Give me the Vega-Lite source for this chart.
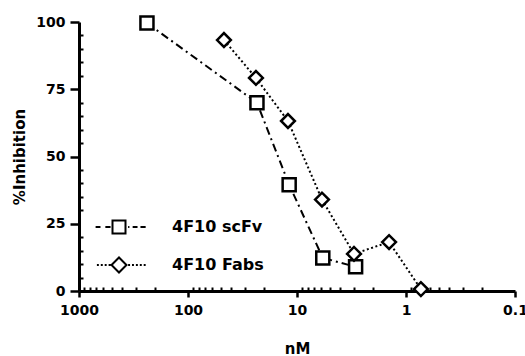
{
  "$schema": "https://vega.github.io/schema/vega-lite/v6.json",
  "width": 436,
  "height": 269,
  "autosize": "none",
  "padding": {"left": 79, "top": 22, "right": 10, "bottom": 65},
  "background": "white",
  "config": {
    "view": {"stroke": null},
    "font": "DejaVu Sans",
    "axis": {
      "grid": false,
      "labelFont": "DejaVu Sans",
      "titleFont": "DejaVu Sans",
      "labelFontWeight": "bold",
      "titleFontWeight": "bold",
      "labelColor": "black",
      "titleColor": "black",
      "domainColor": "black",
      "tickColor": "black"
    }
  },
  "data": {
    "values": [
      {"series": "4F10 scFv", "nM": 238, "inh": 99.6},
      {"series": "4F10 scFv", "nM": 23.3, "inh": 70},
      {"series": "4F10 scFv", "nM": 11.8, "inh": 39.5},
      {"series": "4F10 scFv", "nM": 5.8, "inh": 12.3},
      {"series": "4F10 scFv", "nM": 2.9, "inh": 9},
      {"series": "4F10 Fabs", "nM": 46.8, "inh": 93.3},
      {"series": "4F10 Fabs", "nM": 23.8, "inh": 79.2},
      {"series": "4F10 Fabs", "nM": 12.1, "inh": 63.2},
      {"series": "4F10 Fabs", "nM": 5.9, "inh": 34},
      {"series": "4F10 Fabs", "nM": 3.0, "inh": 13.8},
      {"series": "4F10 Fabs", "nM": 1.43, "inh": 18.2},
      {"series": "4F10 Fabs", "nM": 0.73, "inh": 0.7}
    ]
  },
  "layer": [
    {
      "transform": [{"filter": "datum.series === '4F10 scFv'"}],
      "mark": {"type": "line", "strokeWidth": 2, "color": "black", "strokeDash": [8, 4, 2, 4]},
      "encoding": {
        "x": {
          "field": "nM", "type": "quantitative",
          "scale": {"type": "log", "domain": [0.1, 1000], "reverse": true},
          "axis": {
            "orient": "bottom", "values": [0.1, 1, 10, 100, 1000], "format": "~g",
            "title": "nM", "labelFontSize": 14, "titleFontSize": 15,
            "tickSize": 6, "tickWidth": 2.5, "domainWidth": 3,
            "labelPadding": 6, "titlePadding": 24, "labelFlush": false
          }
        },
        "y": {
          "field": "inh", "type": "quantitative",
          "scale": {"domain": [0, 100]},
          "axis": {
            "orient": "left", "values": [0, 25, 50, 75, 100],
            "title": "%Inhibition", "labelFontSize": 14, "titleFontSize": 15,
            "tickSize": 9, "tickWidth": 2.5, "domainWidth": 3,
            "labelPadding": 5, "titlePadding": 8
          }
        }
      }
    },
    {
      "transform": [{"filter": "datum.series === '4F10 Fabs'"}],
      "mark": {"type": "line", "strokeWidth": 2, "color": "black", "strokeDash": [2, 2.5]},
      "encoding": {
        "x": {"field": "nM", "type": "quantitative", "axis": null},
        "y": {"field": "inh", "type": "quantitative", "axis": null}
      }
    },
    {
      "transform": [{"filter": "datum.series === '4F10 scFv'"}],
      "mark": {"type": "point", "shape": "square", "filled": true, "fill": "white", "stroke": "black", "strokeWidth": 2.5, "opacity": 1, "size": 170},
      "encoding": {
        "x": {"field": "nM", "type": "quantitative", "axis": null},
        "y": {"field": "inh", "type": "quantitative", "axis": null}
      }
    },
    {
      "transform": [{"filter": "datum.series === '4F10 Fabs'"}],
      "mark": {"type": "point", "shape": "diamond", "filled": true, "fill": "white", "stroke": "black", "strokeWidth": 2.5, "opacity": 1, "size": 190},
      "encoding": {
        "x": {"field": "nM", "type": "quantitative", "axis": null},
        "y": {"field": "inh", "type": "quantitative", "axis": null}
      }
    },
    {
      "mark": {"type": "point", "opacity": 0, "filled": false, "stroke": "black", "strokeWidth": 2},
      "encoding": {
        "x": {"field": "nM", "type": "quantitative", "axis": null},
        "y": {"field": "inh", "type": "quantitative", "axis": null},
        "shape": {
          "field": "series", "type": "nominal",
          "scale": {
            "domain": ["4F10 scFv", "4F10 Fabs"],
            "range": [
              "M-3.6,0H-2.85M-2.1,0H-1.3M-1,-1H1V1H-1ZM1.4,0H1.6M2.1,0H2.85M3.3,0H4.1",
              "M-3.4,0H-3.1M-2.8,0H-2.5M-2.2,0H-1.9M-1.6,0H-1.3M-1.15,0L0,-1.15L1.15,0L0,1.15ZM1.4,0H1.7M2,0H2.3M2.6,0H2.9M3.2,0H3.5M3.8,0H4.1"
            ]
          },
          "legend": {
            "orient": "none", "legendX": 32, "legendY": 197,
            "title": null, "padding": 0,
            "labelFont": "DejaVu Sans", "labelFontWeight": "bold", "labelFontSize": 16, "labelColor": "black",
            "symbolSize": 169, "symbolStrokeWidth": 2, "symbolStrokeColor": "black", "symbolOpacity": 1,
            "labelOffset": 45, "rowPadding": 15,
            "encode": {
              "symbols": {
                "update": {
                  "stroke": {"value": "black"},
                  "fill": {"value": "white"},
                  "strokeWidth": {"value": 2},
                  "opacity": {"value": 1},
                  "strokeOpacity": {"value": 1}
                }
              }
            }
          }
        }
      }
    },
    {
      "mark": {"type": "point", "opacity": 0},
      "encoding": {
        "x": {
          "field": "nM", "type": "quantitative",
          "axis": {
            "orient": "top", "offset": -269, "domain": false, "labels": false, "title": null,
            "tickSize": 4, "tickWidth": 2,
            "values": [0.2, 0.3, 0.4, 0.5, 0.6, 0.7, 0.8, 0.9, 2, 3, 4, 5, 6, 7, 8, 9, 20, 30, 40, 50, 60, 70, 80, 90, 200, 300, 400, 500, 600, 700, 800, 900]
          }
        },
        "y": {
          "field": "inh", "type": "quantitative",
          "axis": {
            "orient": "right", "offset": -436, "domain": false, "labels": false, "title": null,
            "tickSize": 4, "tickWidth": 2,
            "values": [5, 10, 15, 20, 30, 35, 40, 45, 55, 60, 65, 70, 80, 85, 90, 95]
          }
        }
      }
    }
  ],
  "resolve": {"axis": {"x": "independent", "y": "independent"}}
}
